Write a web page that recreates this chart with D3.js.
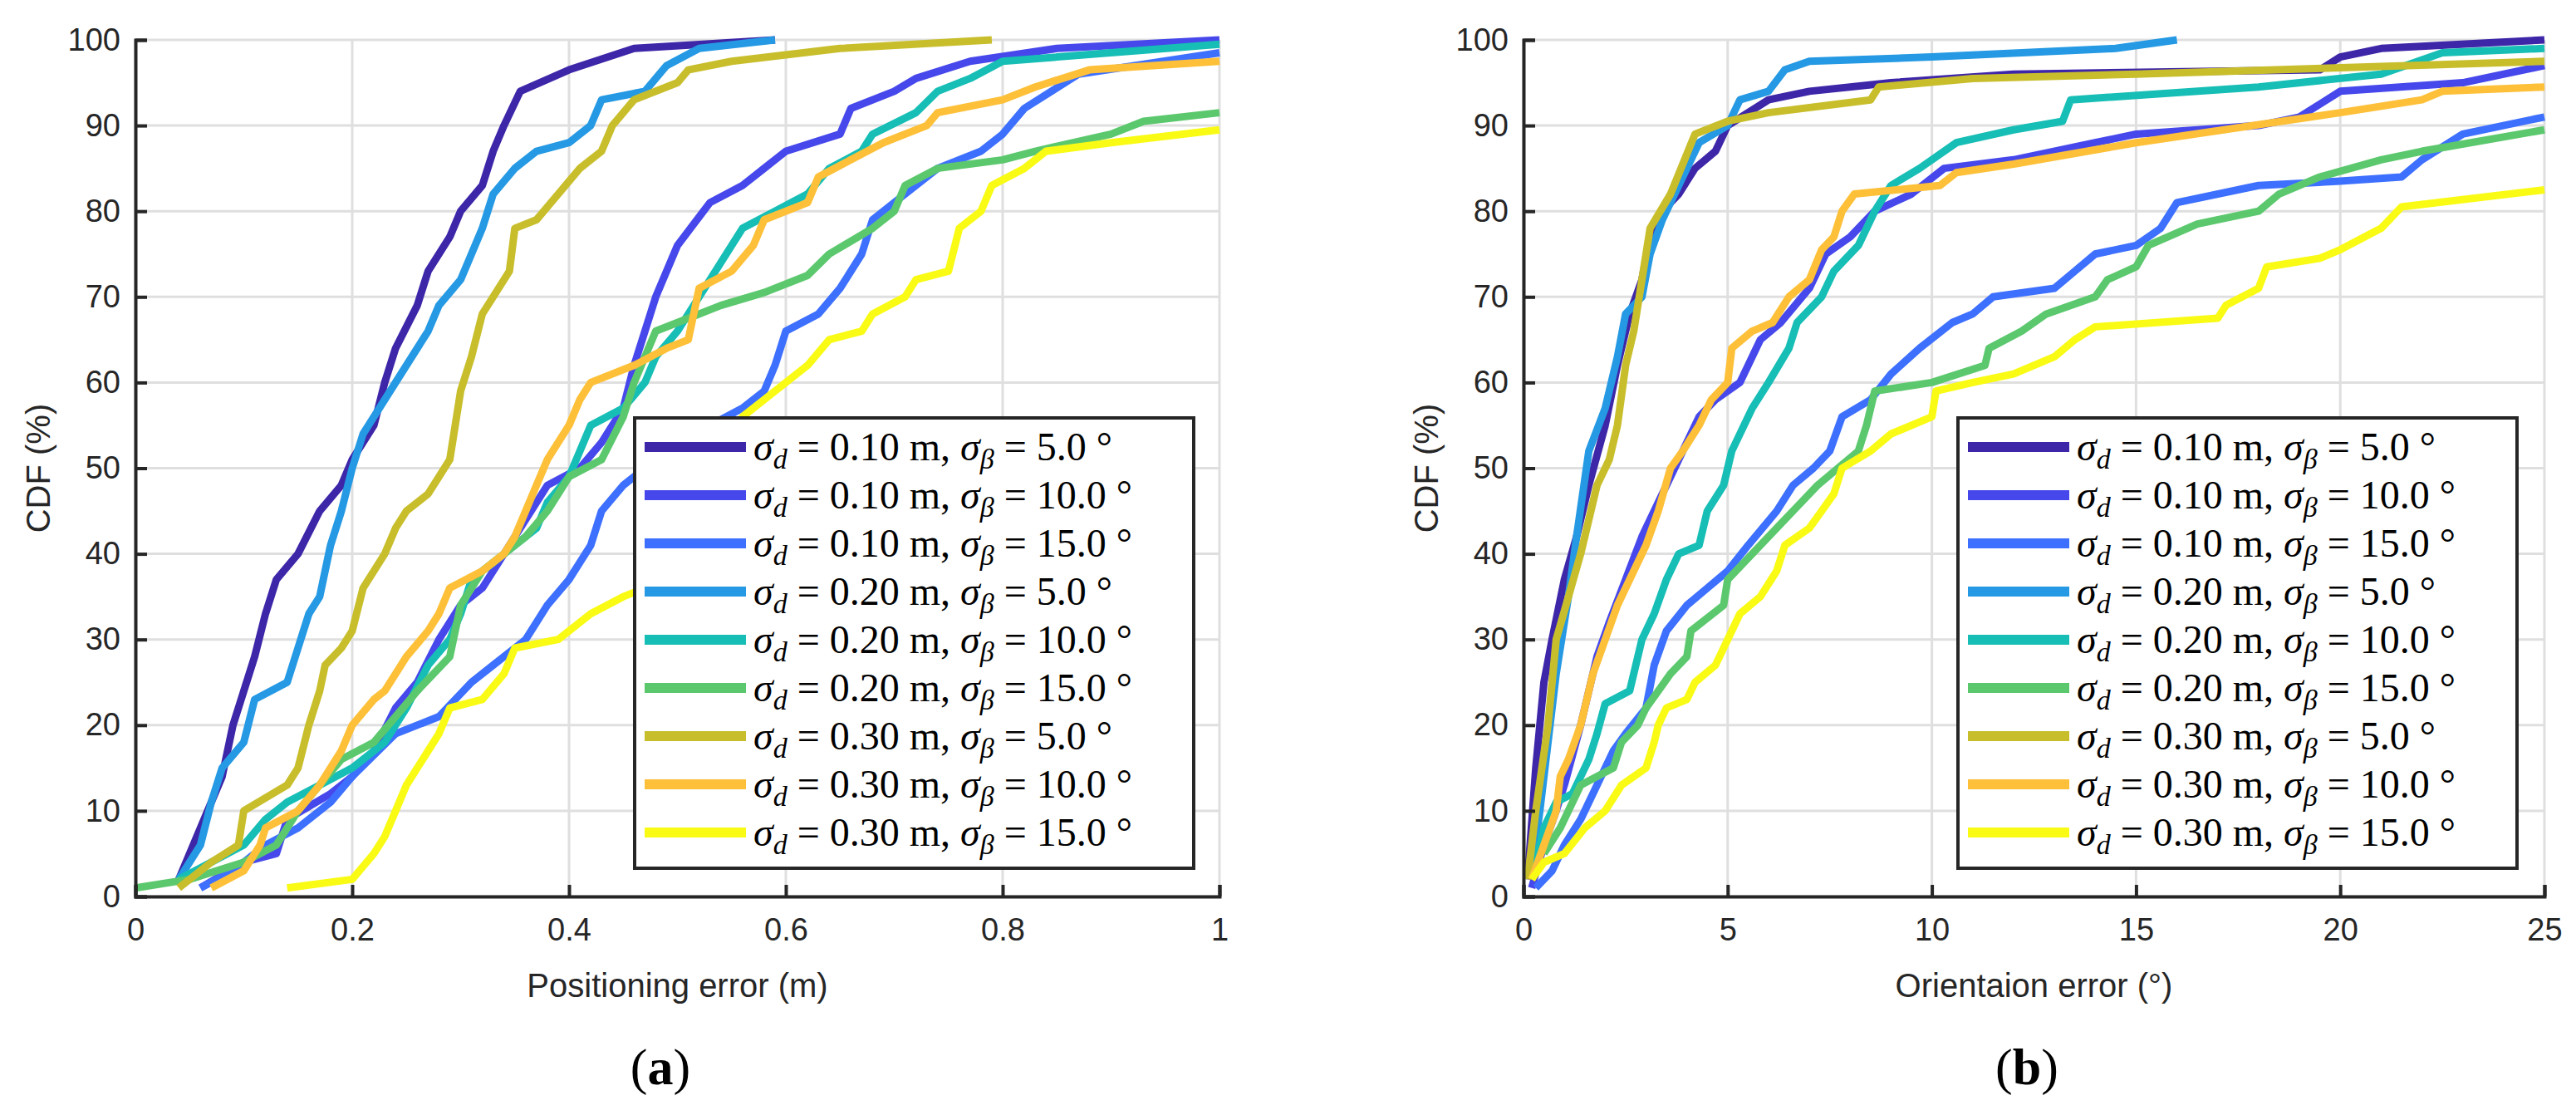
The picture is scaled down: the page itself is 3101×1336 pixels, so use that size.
<!DOCTYPE html>
<html>
<head>
<meta charset="utf-8">
<script src="https://cdn.jsdelivr.net/npm/d3@7"></script>
<style>
  body { margin: 0; background: #fff; }
  .tick text { font-family: "Liberation Sans", Arial, sans-serif; font-size: 38px; fill: #262626; }
  .axis-label { font-family: "Liberation Sans", Arial, sans-serif; font-size: 40px; fill: #262626; }
  .legend-text { font-family: "Liberation Serif", "DejaVu Serif", serif; font-size: 48px; fill: #000; }
</style>
</head>
<body>
<div id="chart"></div>
<script>
var svgWidth = 3101;
var svgHeight = 1336;

var colors = ["#3E26A8", "#4748EB", "#3E70FF", "#2599E3", "#16BEB5", "#5CC86E", "#C8BE2C", "#FDC038", "#F9FB14"];
var labels = [
  ["0.10", "5.0"], ["0.10", "10.0"], ["0.10", "15.0"],
  ["0.20", "5.0"], ["0.20", "10.0"], ["0.20", "15.0"],
  ["0.30", "5.0"], ["0.30", "10.0"], ["0.30", "15.0"]
];

// positioning error (m), CDF (%)
var posData = [
  [[0.04,2],[0.06,8],[0.08,14],[0.09,20],[0.1,24],[0.11,28],[0.12,33],[0.13,37],[0.15,40],[0.17,45],[0.19,48],[0.2,51],[0.22,55],[0.23,60],[0.24,64],[0.26,69],[0.27,73],[0.29,77],[0.3,80],[0.32,83],[0.33,87],[0.34,90],[0.355,94],[0.4,96.5],[0.46,99],[0.59,100]],
  [[0.06,1],[0.1,4],[0.13,5],[0.14,9],[0.18,12],[0.2,14],[0.22,17],[0.24,22],[0.26,25],[0.28,30],[0.3,34],[0.32,36],[0.34,40],[0.36,44],[0.38,48],[0.41,50],[0.43,53],[0.45,57],[0.46,62],[0.47,66],[0.48,70],[0.5,76],[0.53,81],[0.56,83],[0.58,85],[0.6,87],[0.65,89],[0.66,92],[0.7,94],[0.72,95.5],[0.77,97.5],[0.85,99],[1.0,100]],
  [[0.06,1],[0.09,3],[0.12,6],[0.15,8],[0.18,11],[0.2,14],[0.24,19],[0.28,21],[0.31,25],[0.33,27],[0.36,30],[0.38,34],[0.4,37],[0.42,41],[0.43,45],[0.45,48],[0.47,50],[0.5,53],[0.53,55],[0.56,57],[0.58,59],[0.59,62],[0.6,66],[0.63,68],[0.65,71],[0.67,75],[0.68,79],[0.71,82],[0.74,85],[0.78,87],[0.8,89],[0.82,92],[0.87,96],[1.0,98.5]],
  [[0.04,2],[0.06,6],[0.07,11],[0.08,15],[0.1,18],[0.11,23],[0.14,25],[0.15,29],[0.16,33],[0.17,35],[0.18,41],[0.19,45],[0.2,50],[0.21,54],[0.23,58],[0.25,62],[0.27,66],[0.28,69],[0.3,72],[0.31,75],[0.32,78],[0.33,82],[0.35,85],[0.37,87],[0.4,88],[0.42,90],[0.43,93],[0.47,94],[0.49,97],[0.52,99],[0.59,100]],
  [[0.04,2],[0.07,4],[0.1,6],[0.12,9],[0.14,11],[0.17,13],[0.2,15],[0.23,18],[0.25,22],[0.27,27],[0.29,30],[0.3,33],[0.31,37],[0.33,39],[0.35,41],[0.37,43],[0.38,46],[0.4,49],[0.41,52],[0.42,55],[0.45,57],[0.47,60],[0.48,63],[0.5,66],[0.52,70],[0.54,74],[0.56,78],[0.59,80],[0.62,82],[0.64,85],[0.67,87],[0.68,89],[0.72,91.5],[0.74,94],[0.77,95.5],[0.8,97.5],[1.0,99.5]],
  [[0,1],[0.05,2],[0.1,4],[0.13,6],[0.15,10],[0.17,13],[0.19,16],[0.22,18],[0.24,21],[0.26,24],[0.29,28],[0.3,34],[0.32,38],[0.34,40],[0.36,42],[0.38,45],[0.4,49],[0.43,51],[0.45,56],[0.46,60],[0.48,66],[0.5,67],[0.54,69],[0.58,70.5],[0.62,72.5],[0.64,75],[0.68,78],[0.7,80],[0.71,83],[0.74,85],[0.8,86],[0.83,87],[0.9,89],[0.93,90.5],[1.0,91.5]],
  [[0.04,1],[0.07,4],[0.095,6],[0.1,10],[0.14,13],[0.15,15],[0.16,20],[0.17,24],[0.175,27],[0.19,29],[0.2,31],[0.21,36],[0.23,40],[0.24,43],[0.25,45],[0.27,47],[0.28,49],[0.29,51],[0.295,55],[0.3,59],[0.31,63],[0.32,68],[0.33,70],[0.345,73],[0.35,78],[0.37,79],[0.39,82],[0.41,85],[0.43,87],[0.44,90],[0.46,93],[0.5,95],[0.51,96.5],[0.55,97.5],[0.65,99],[0.79,100]],
  [[0.07,1],[0.1,3],[0.115,6],[0.12,8],[0.15,10],[0.17,13],[0.19,17],[0.2,20],[0.22,23],[0.23,24],[0.25,28],[0.27,31],[0.28,33],[0.29,36],[0.32,38],[0.34,40],[0.35,42],[0.36,45],[0.37,48],[0.38,51],[0.4,55],[0.41,58],[0.42,60],[0.46,62],[0.49,64],[0.51,65],[0.52,71],[0.55,73],[0.57,76],[0.58,79],[0.62,81],[0.63,84],[0.66,86],[0.69,88],[0.73,90],[0.74,91.5],[0.8,93],[0.83,94.5],[0.88,96.5],[1.0,97.5]],
  [[0.14,1],[0.2,2],[0.22,5],[0.23,7],[0.24,10],[0.25,13],[0.26,15],[0.27,17],[0.28,19],[0.29,22],[0.32,23],[0.34,26],[0.35,29],[0.39,30],[0.42,33],[0.45,35],[0.49,37],[0.51,42],[0.54,50],[0.56,56],[0.58,58],[0.62,62],[0.64,65],[0.67,66],[0.68,68],[0.71,70],[0.72,72],[0.75,73],[0.76,78],[0.78,80],[0.79,83],[0.82,85],[0.84,87],[0.9,88],[1.0,89.5]]
];

// orientation error (deg), CDF (%)
var oriData = [
  [[0.1,2],[0.3,15],[0.5,25],[0.7,30],[1,37],[1.3,42],[1.6,48],[2,55],[2.3,62],[2.6,68],[2.9,72],[3.1,77],[3.4,80],[3.8,82],[4.2,85],[4.7,87],[5,90],[6,93],[7,94],[9,95],[12,96],[19.5,96.5],[20,98],[21,99],[25,100]],
  [[0.2,1],[0.5,6],[0.8,10],[1,13],[1.4,20],[1.8,28],[2.1,32],[2.5,37],[2.9,42],[3.3,46],[3.8,51],[4.3,56],[4.7,58],[5.3,60],[5.8,65],[6.3,67],[7,71],[7.4,75],[8,77],[8.6,80],[9.5,82],[10.3,85],[12,86],[14,88],[15,89],[18,90],[19,91],[20,94],[23,95],[25,97]],
  [[0.3,1],[0.7,3],[1,6],[1.4,9],[1.8,13],[2.2,17],[2.5,19],[3,22],[3.2,27],[3.5,31],[4,34],[4.5,36],[5,38],[5.5,41],[6.2,45],[6.6,48],[7.1,50],[7.5,52],[7.8,56],[8.5,58],[9,61],[9.7,64],[10.5,67],[11,68],[11.5,70],[13,71],[13.5,73],[14,75],[15,76],[15.6,78],[16,81],[18,83],[20,83.5],[21.5,84],[22,86],[23,89],[25,91]],
  [[0.2,3],[0.4,10],[0.6,18],[0.8,26],[1.1,35],[1.3,42],[1.6,52],[2,57],[2.3,63],[2.5,68],[2.9,70],[3.1,75],[3.4,79],[3.8,83],[4.3,88],[5,90],[5.3,93],[6,94],[6.4,96.5],[7,97.5],[10,98],[14.5,99],[16,100]],
  [[0.2,2],[0.5,8],[0.8,11],[1.2,12],[1.6,16],[1.8,19],[2,22.5],[2.6,24],[2.9,30],[3.2,33],[3.5,37],[3.8,40],[4.3,41],[4.5,45],[4.9,48],[5.1,52],[5.6,57],[6,60],[6.5,64],[6.7,67],[7.3,70],[7.6,73],[8.2,76],[8.6,80],[9,83],[9.7,85],[10.6,88],[12,89.5],[13.2,90.5],[13.4,93],[18,94.5],[21,96],[22.5,98.5],[25,99]],
  [[0.5,5],[0.9,8],[1.4,13],[2.2,15],[2.4,18],[2.8,20],[3,22],[3.3,24],[3.6,26],[4,28],[4.1,31],[4.9,34],[5,37],[5.6,40],[6.2,43],[6.8,46],[7.2,48],[8.2,52],[8.4,55],[8.6,59],[10,60],[11.3,62],[11.4,64],[12.2,66],[12.8,68],[14,70],[14.3,72],[15,73.5],[15.3,76],[16.5,78.5],[18,80],[18.5,82],[19.5,84],[21,86],[22,87],[25,89.5]],
  [[0.1,2],[0.3,10],[0.6,20],[0.8,30],[1.1,35],[1.4,40],[1.8,48],[2.1,51],[2.3,55],[2.5,62],[2.7,66],[2.9,72],[3.1,78],[3.6,82],[4.2,89],[5,90.5],[6,91.5],[8.5,93],[8.7,94.5],[11,95.5],[15,96],[25,97.5]],
  [[0.2,2],[0.5,6],[0.8,10],[0.9,14],[1.1,16],[1.4,20],[1.7,26],[2,30],[2.3,34],[2.6,37],[3,41],[3.3,45],[3.6,50],[3.9,52],[4.3,55],[4.6,58],[5,60],[5.1,64],[5.6,66],[6.1,67],[6.5,70],[7,72],[7.3,75.5],[7.6,77],[7.8,80],[8.1,82],[10.2,83],[10.6,84.5],[12,85.5],[15,88],[20,91.5],[22,93],[22.5,94],[25,94.5]],
  [[0.2,2],[0.5,4],[1,5],[1.5,8],[2,10],[2.4,13],[3,15],[3.2,18],[3.3,20],[3.5,22],[4,23],[4.2,25],[4.7,27],[5,30],[5.3,33],[5.8,35],[6.2,38],[6.4,41],[7,43],[7.3,45],[7.6,47],[7.8,50],[8.5,52],[9,54],[10,56],[10.1,59],[11,60],[12,61],[13,63],[13.5,65],[14,66.5],[17,67.5],[17.2,69],[18,71],[18.2,73.5],[19.5,74.5],[20,75.5],[21,78],[21.5,80.5],[25,82.5]]
];

var svg = d3.select("#chart").append("svg")
  .attr("width", svgWidth)
  .attr("height", svgHeight);

function panel(cfg) {
  var x = d3.scaleLinear().domain(cfg.xDomain).range([cfg.left, cfg.right]);
  var y = d3.scaleLinear().domain([0, 100]).range([1079, 48]);
  var g = svg.append("g");

  // grid
  g.append("g").selectAll("line").data(cfg.xTicks).enter().append("line")
    .attr("x1", d => x(d)).attr("x2", d => x(d)).attr("y1", y(0)).attr("y2", y(100))
    .attr("stroke", "#dfdfdf").attr("stroke-width", 3);
  g.append("g").selectAll("line").data(d3.range(0, 101, 10)).enter().append("line")
    .attr("x1", x.range()[0]).attr("x2", x.range()[1]).attr("y1", d => y(d)).attr("y2", d => y(d))
    .attr("stroke", "#dfdfdf").attr("stroke-width", 3);

  var line = d3.line().x(d => x(d[0])).y(d => y(d[1]));
  g.selectAll(".curve").data(cfg.data).enter().append("path")
    .attr("class", "curve")
    .attr("d", line)
    .attr("fill", "none")
    .attr("stroke", (d, i) => colors[i])
    .attr("stroke-width", 9)
    .attr("stroke-linejoin", "round");

  var xAxis = d3.axisBottom(x).tickValues(cfg.xTicks).tickSize(-14).tickPadding(26).tickFormat(cfg.fmt);
  var yAxis = d3.axisLeft(y).tickValues(d3.range(0, 101, 10)).tickSize(-14).tickPadding(18);
  g.append("g").attr("transform", `translate(0,${y(0)})`).call(xAxis)
    .call(a => a.selectAll("path,line").attr("stroke", "#262626").attr("stroke-width", 4));
  g.append("g").attr("transform", `translate(${cfg.left},0)`).call(yAxis)
    .call(a => a.selectAll("path,line").attr("stroke", "#262626").attr("stroke-width", 4));

  g.append("text").attr("class", "axis-label")
    .attr("x", (cfg.left + cfg.right) / 2).attr("y", 1200).attr("text-anchor", "middle")
    .text(cfg.xLabel);
  g.append("text").attr("class", "axis-label")
    .attr("transform", `translate(${cfg.left - 103},${y(50)}) rotate(-90)`)
    .attr("text-anchor", "middle").text("CDF (%)");

  // legend
  var lg = g.append("g").attr("transform", `translate(${cfg.legX},503)`);
  lg.append("rect").attr("width", 673).attr("height", 542)
    .attr("fill", "#fff").attr("stroke", "#262626").attr("stroke-width", 4);
  var rows = lg.selectAll(".row").data(labels).enter().append("g")
    .attr("transform", (d, i) => `translate(0,${35 + i * 58})`);
  rows.append("line").attr("x1", 12).attr("x2", 134).attr("y1", 0).attr("y2", 0)
    .attr("stroke", (d, i) => colors[i]).attr("stroke-width", 12);
  var t = rows.append("text").attr("class", "legend-text").attr("x", 143).attr("y", 16);
  t.append("tspan").attr("font-style", "italic").text("σ");
  t.append("tspan").attr("font-style", "italic").attr("font-size", 34).attr("dy", 10).text("d");
  t.append("tspan").attr("dy", -10).text(d => ` = ${d[0]} m, `);
  t.append("tspan").attr("font-style", "italic").text("σ");
  t.append("tspan").attr("font-style", "italic").attr("font-size", 34).attr("dy", 10).text("β");
  t.append("tspan").attr("dy", -10).text(d => ` = ${d[1]} °`);

  g.append("text").attr("x", cfg.capX).attr("y", 1305).attr("text-anchor", "middle")
    .attr("font-family", "Liberation Serif, serif").attr("font-size", 62)
    .html('(<tspan font-weight="bold">' + cfg.cap + '</tspan>)');
}

panel({ xDomain: [0, 1], left: 163, right: 1468, xTicks: [0, 0.2, 0.4, 0.6, 0.8, 1],
  fmt: d => d === 0 || d === 1 ? d3.format("d")(d) : d3.format(".1f")(d),
  data: posData, xLabel: "Positioning error (m)", legX: 764, capX: 795, cap: "a" });
panel({ xDomain: [0, 25], left: 1834, right: 3063, xTicks: [0, 5, 10, 15, 20, 25],
  fmt: d3.format("d"),
  data: oriData, xLabel: "Orientaion error (°)", legX: 2357, capX: 2440, cap: "b" });
</script>
</body>
</html>
